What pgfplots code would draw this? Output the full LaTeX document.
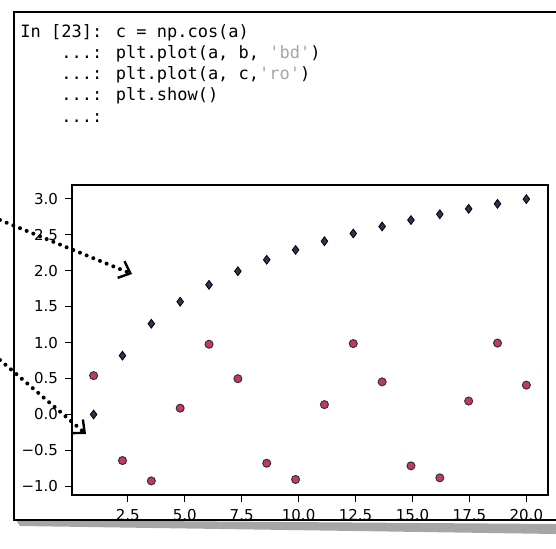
\documentclass[border=0pt]{standalone}
\usepackage{fontspec}
\setmainfont{DejaVu Sans}
\newfontfamily\codefont{DejaVu Sans Mono}
\usepackage{pgfplots}
\pgfplotsset{compat=1.18}
\usetikzlibrary{arrows.meta}

\definecolor{diam}{HTML}{2E3350}
\definecolor{dotred}{HTML}{C43A5C}

% a = linspace(1, 20, 16), b = log(a), c = cos(a)
\pgfplotstableread{
a       b       c
1.0000  0.0000  0.5403
2.2667  0.8183  -0.6410
3.5333  1.2622  -0.9243
4.8000  1.5686  0.0875
6.0667  1.8028  0.9767
7.3333  1.9924  0.4974
8.6000  2.1518  -0.6785
9.8667  2.2892  -0.9039
11.1333 2.4099  0.1373
12.4000 2.5177  0.9862
13.6667 2.6150  0.4534
14.9333 2.7036  -0.7147
16.2000 2.7850  -0.8814
17.4667 2.8603  0.1868
18.7333 2.9303  0.9932
20.0000 2.9957  0.4081
}\datatable

\begin{document}
\begin{tikzpicture}[x=1pt,y=1pt]
\path[use as bounding box] (0,0) rectangle (278,274);

% page shadow and cell frame
\fill[black!35] (8,14) -- (278,12) -- (278,7) -- (10,11) -- cycle;
\draw[line width=1pt] (278,268) -- (7,268) -- (7,14) -- (278,14);

% code
\node[anchor=north west, align=left, inner sep=0pt,
      font=\codefont\fontsize{8.5}{10.6}\selectfont] at (10,262) {%
In [23]: c = np.cos(a)\\
\phantom{In [}...: plt.plot(a, b, \textcolor{black!35}{\char39 bd\char39})\\
\phantom{In [}...: plt.plot(a, c,\textcolor{black!35}{\char39 ro\char39})\\
\phantom{In [}...: plt.show()\\
\phantom{In [}...:};

\begin{axis}[
  at={(36pt,26.5pt)}, anchor=south west,
  width=238pt, height=155pt, scale only axis,
  xmin=0.05, xmax=20.95,
  ymin=-1.1203, ymax=3.1917,
  axis line style={line width=0.8pt},
  tick align=outside, xtick pos=bottom, ytick pos=left,
  major tick length=3.5pt,
  every tick/.style={black, line width=0.7pt},
  xtick={2.5,5,7.5,10,12.5,15,17.5,20},
  xticklabels={2.5,5.0,7.5,10.0,12.5,15.0,17.5,20.0},
  ytick={-1,-0.5,0,0.5,1,1.5,2,2.5,3},
  yticklabels={−1.0,−0.5,0.0,0.5,1.0,1.5,2.0,2.5,3.0},
  tick label style={font=\fontsize{7.5}{9}\selectfont},
]
\addplot[only marks, mark=diamond*, mark size=2.2pt,
  mark options={fill=diam, draw=black, line width=0.4pt}]
  table[x=a, y=b] {\datatable};
\addplot[only marks, mark=*, mark size=2pt,
  mark options={fill=dotred, draw=black!80, line width=0.5pt}]
  table[x=a, y=c] {\datatable};
\end{axis}

% dotted pointer arrows
\draw[line width=2pt, line cap=round, dash pattern=on 0pt off 3.6pt,
      -{Straight Barb[length=5pt, width=9pt, line width=1.2pt]}]
  (0,164) -- (66,137);
\draw[line width=2pt, line cap=round, dash pattern=on 0pt off 3.6pt,
      -{Straight Barb[length=5pt, width=9pt, line width=1.2pt]}]
  (0,94) -- (43,57);
\end{tikzpicture}
\end{document}
